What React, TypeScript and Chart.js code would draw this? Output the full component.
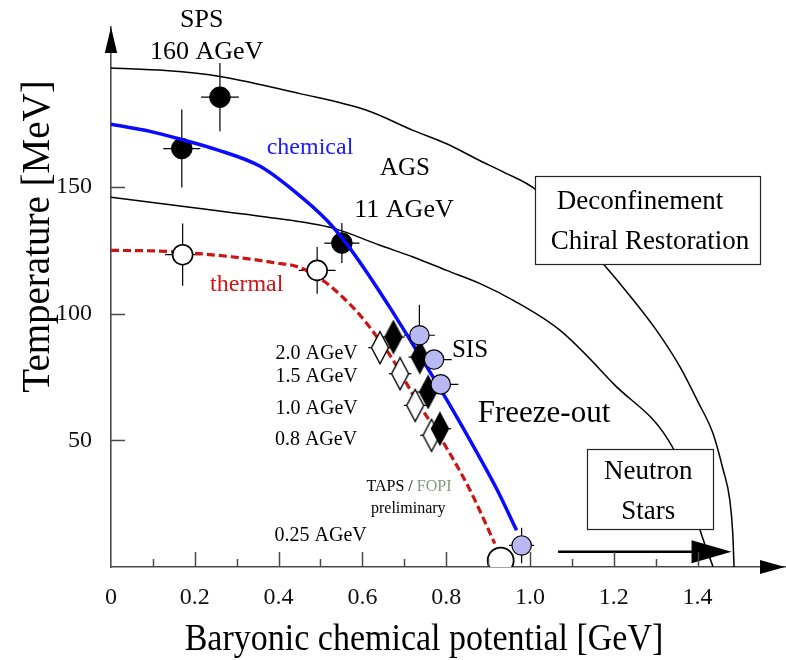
import React, { useEffect, useRef } from "react";
import { Chart, registerables } from "chart.js";

Chart.register(...registerables);

const FONT = '"Liberation Serif", "Times New Roman", serif';

// ---------------- axes ----------------
const xMin = 0;
const xMax = 1.6086;
const yMin = 0;
const yMax = 213.2;
const xTickValues = [0, 0.2, 0.4, 0.6, 0.8, 1.0, 1.2, 1.4];
const xTickLabels = ["0", "0.2", "0.4", "0.6", "0.8", "1.0", "1.2", "1.4"];
const xMinorTickValues = [0.1, 0.3, 0.5, 0.7, 0.9, 1.1, 1.3];
const yTickValues = [50, 100, 150];
const yTickLabels = ["50", "100", "150"];

// ---------------- curves ----------------
const deconfMu = [0, 0.13, 0.26, 0.451, 0.61, 0.721, 0.801, 0.881, 0.936, 1.016, 1.09, 1.171, 1.247, 1.302, 1.358, 1.4, 1.437, 1.46, 1.477, 1.484, 1.487];
const deconfT = [197, 196, 193.7, 186.9, 180.3, 172.4, 167.1, 160.4, 156, 148.7, 135, 120.4, 105.3, 93.4, 79, 65.5, 52.6, 39, 26.3, 13, 0];

const phaseMu = [0, 0.212, 0.37, 0.53, 0.642, 0.721, 0.801, 0.881, 0.96, 1.072, 1.199, 1.342, 1.38, 1.406, 1.437];
const phaseT = [146, 141.5, 138.2, 133.8, 127, 122.4, 117.1, 111.9, 105.3, 93.4, 72.4, 46.7, 30, 14.5, 0];

const chemicalMu = [0, 0.093, 0.168, 0.252, 0.356, 0.435, 0.515, 0.562, 0.61, 0.642, 0.67, 0.72, 0.787, 0.857, 0.92, 0.968];
const chemicalT = [174.8, 172, 168.8, 164.8, 158.2, 148.7, 136.9, 127.7, 116.5, 108.5, 101.3, 88, 70, 50, 31, 14.5];

const thermalMu = [0, 0.1, 0.172, 0.292, 0.388, 0.451, 0.511, 0.55, 0.594, 0.634, 0.674, 0.721, 0.801, 0.857, 0.916];
const thermalT = [125, 124.8, 124.2, 122.4, 120.2, 118.2, 112.5, 107, 99.5, 91, 81.5, 68, 47, 30.3, 9.2];

// ---------------- data points ----------------
const spsAgsChemMu = [0.169, 0.26, 0.551];
const spsAgsChemT = [165.2, 185.5, 127.9];
const spsAgsChemMuErr = [0.044, 0.045, 0.042];
const spsAgsChemTErr = [15.4, 13.5, 7.9];

const spsAgsThermMu = [0.171, 0.492];
const spsAgsThermT = [123.3, 117.1];
const spsAgsThermMuErr = [0.042, 0.044];
const spsAgsThermTErr = [12.3, 9.2];

const sisMu = [0.736, 0.771, 0.787, 0.98];
const sisT = [91.5, 81.9, 72.1, 8.5];
const sisMuErr = [0.037, 0.042, 0.042, 0.03];
const sisTErr = [12, 0, 0, 7];

const tapsChemMu = [0.674, 0.737, 0.757, 0.785];
const tapsChemT = [90.8, 82.9, 69.1, 54.6];
const tapsChemMuErr = [0.027, 0.027, 0.027, 0.027];

const tapsThermMu = [0.642, 0.69, 0.726, 0.765];
const tapsThermT = [86.6, 76.3, 63.8, 52.0];
const tapsThermMuErr = [0.028, 0.027, 0.027, 0.027];

const lowEnergyMu = [0.93];
const lowEnergyT = [2.5];

// ---------------- annotations ----------------
type Part = { text: string; color: string };
type Note = { parts: Part[]; mu: number; T: number; size: number };
const BLACK = "#000000";
const notes: Note[] = [
  { parts: [{ text: "SPS", color: BLACK }], mu: 0.2165, T: 215.8, size: 26 },
  { parts: [{ text: "160 AGeV", color: BLACK }], mu: 0.2284, T: 203.3, size: 26 },
  { parts: [{ text: "chemical", color: "#1a1aff" }], mu: 0.475, T: 165.4, size: 24 },
  { parts: [{ text: "AGS", color: BLACK }], mu: 0.7017, T: 157.3, size: 25 },
  { parts: [{ text: "11 AGeV", color: BLACK }], mu: 0.6993, T: 140.8, size: 26 },
  { parts: [{ text: "thermal", color: "#d01414" }], mu: 0.3239, T: 111.4, size: 24 },
  { parts: [{ text: "2.0 AGeV", color: BLACK }], mu: 0.4909, T: 84.2, size: 20 },
  { parts: [{ text: "1.5 AGeV", color: BLACK }], mu: 0.4909, T: 75.0, size: 20 },
  { parts: [{ text: "1.0 AGeV", color: BLACK }], mu: 0.4909, T: 62.5, size: 20 },
  { parts: [{ text: "0.8 AGeV", color: BLACK }], mu: 0.4893, T: 50.2, size: 20 },
  { parts: [{ text: "0.25 AGeV", color: BLACK }], mu: 0.5003, T: 12.5, size: 20 },
  { parts: [{ text: "TAPS / ", color: BLACK }, { text: "FOPI", color: "#7d9e7d" }], mu: 0.7112, T: 31.6, size: 16 },
  { parts: [{ text: "preliminary", color: BLACK }], mu: 0.7095, T: 23.0, size: 16 },
  { parts: [{ text: "SIS", color: BLACK }], mu: 0.8568, T: 85.5, size: 25 },
  { parts: [{ text: "Freeze-out", color: BLACK }], mu: 1.0334, T: 60.6, size: 31 },
  { parts: [{ text: "Deconfinement", color: BLACK }], mu: 1.2626, T: 144.1, size: 27 },
  { parts: [{ text: "Chiral Restoration", color: BLACK }], mu: 1.2864, T: 128.4, size: 27 },
  { parts: [{ text: "Neutron", color: BLACK }], mu: 1.2823, T: 37.5, size: 27 },
  { parts: [{ text: "Stars", color: BLACK }], mu: 1.2823, T: 21.7, size: 27 },
];

const boxes = [
  { mu0: 1.012, mu1: 1.549, T0: 119.8, T1: 154.5 },
  { mu0: 1.135, mu1: 1.4375, T0: 15.2, T1: 46.7 },
];

const nsArrow = { mu0: 1.067, mu1: 1.481, T: 6.0 };

const xTitle = "Baryonic chemical potential [GeV]";
const yTitle = "Temperature [MeV]";

// ---------------- helpers ----------------
const toXY = (xs: number[], ys: number[]) => xs.map((x, i) => ({ x, y: ys[i] }));

function makeDiamond(fill: string, hw: number, hh: number): HTMLCanvasElement {
  const c = document.createElement("canvas");
  c.width = Math.ceil(2 * hw + 3);
  c.height = Math.ceil(2 * hh + 3);
  const g = c.getContext("2d")!;
  const cx = c.width / 2;
  const cy = c.height / 2;
  g.beginPath();
  g.moveTo(cx, cy - hh);
  g.lineTo(cx + hw, cy);
  g.lineTo(cx, cy + hh);
  g.lineTo(cx - hw, cy);
  g.closePath();
  g.fillStyle = fill;
  g.fill();
  g.lineWidth = 1.4;
  g.strokeStyle = "#000";
  g.stroke();
  return c;
}

const errorGroups = [
  { mu: spsAgsChemMu, T: spsAgsChemT, muErr: spsAgsChemMuErr, TErr: spsAgsChemTErr },
  { mu: spsAgsThermMu, T: spsAgsThermT, muErr: spsAgsThermMuErr, TErr: spsAgsThermTErr },
  { mu: sisMu, T: sisT, muErr: sisMuErr, TErr: sisTErr },
  { mu: tapsChemMu, T: tapsChemT, muErr: tapsChemMuErr, TErr: tapsChemMu.map(() => 0) },
  { mu: tapsThermMu, T: tapsThermT, muErr: tapsThermMuErr, TErr: tapsThermMu.map(() => 0) },
];

const overlayPlugin = {
  id: "overlay",
  beforeDatasetsDraw(chart: any) {
    const { ctx } = chart;
    const xs = chart.scales.x;
    const ys = chart.scales.y;
    ctx.save();
    ctx.strokeStyle = "#000";
    ctx.lineWidth = 1.2;
    for (const g of errorGroups) {
      g.mu.forEach((m: number, i: number) => {
        const px = xs.getPixelForValue(m);
        const py = ys.getPixelForValue(g.T[i]);
        ctx.beginPath();
        if (g.muErr[i]) {
          ctx.moveTo(xs.getPixelForValue(m - g.muErr[i]), py);
          ctx.lineTo(xs.getPixelForValue(m + g.muErr[i]), py);
        }
        if (g.TErr[i]) {
          ctx.moveTo(px, ys.getPixelForValue(g.T[i] - g.TErr[i]));
          ctx.lineTo(px, ys.getPixelForValue(g.T[i] + g.TErr[i]));
        }
        ctx.stroke();
      });
    }
    ctx.restore();
  },
  afterDatasetsDraw(chart: any) {
    const { ctx, chartArea } = chart;
    const xs = chart.scales.x;
    const ys = chart.scales.y;
    ctx.save();

    // boxes
    for (const b of boxes) {
      const x0 = Math.round(xs.getPixelForValue(b.mu0)) + 0.5;
      const x1 = Math.round(xs.getPixelForValue(b.mu1)) + 0.5;
      const y0 = Math.round(ys.getPixelForValue(b.T1)) + 0.5;
      const y1 = Math.round(ys.getPixelForValue(b.T0)) + 0.5;
      ctx.fillStyle = "#fff";
      ctx.fillRect(x0, y0, x1 - x0, y1 - y0);
      ctx.strokeStyle = "#222";
      ctx.lineWidth = 1.2;
      ctx.strokeRect(x0, y0, x1 - x0, y1 - y0);
    }

    // neutron star arrow
    {
      const y = ys.getPixelForValue(nsArrow.T);
      const x0 = xs.getPixelForValue(nsArrow.mu0);
      const tip = xs.getPixelForValue(nsArrow.mu1);
      const base = tip - 40;
      ctx.strokeStyle = "#000";
      ctx.lineWidth = 2.6;
      ctx.beginPath();
      ctx.moveTo(x0, y);
      ctx.lineTo(base + 2, y);
      ctx.stroke();
      ctx.fillStyle = "#000";
      ctx.beginPath();
      ctx.moveTo(tip, y);
      ctx.lineTo(base, y - 11.5);
      ctx.lineTo(base, y + 11.5);
      ctx.closePath();
      ctx.fill();
    }

    // inward tick marks
    ctx.strokeStyle = "#4a4a4a";
    ctx.lineWidth = 1.5;
    ctx.beginPath();
    for (const v of xTickValues) {
      if (v === 0) continue;
      const px = Math.round(xs.getPixelForValue(v)) + 0.5;
      ctx.moveTo(px, chartArea.bottom);
      ctx.lineTo(px, chartArea.bottom - 15);
    }
    for (const v of xMinorTickValues) {
      const px = Math.round(xs.getPixelForValue(v)) + 0.5;
      ctx.moveTo(px, chartArea.bottom);
      ctx.lineTo(px, chartArea.bottom - 8);
    }
    for (const v of yTickValues) {
      const py = Math.round(ys.getPixelForValue(v)) + 0.5;
      ctx.moveTo(chartArea.left, py);
      ctx.lineTo(chartArea.left + 14, py);
    }
    ctx.stroke();

    // axis arrowheads
    ctx.fillStyle = "#000";
    ctx.beginPath();
    ctx.moveTo(chartArea.left, chartArea.top);
    ctx.lineTo(chartArea.left - 6.2, chartArea.top + 26);
    ctx.lineTo(chartArea.left + 6.2, chartArea.top + 26);
    ctx.closePath();
    ctx.fill();
    ctx.beginPath();
    ctx.moveTo(chartArea.right, chartArea.bottom);
    ctx.lineTo(chartArea.right - 25, chartArea.bottom - 7);
    ctx.lineTo(chartArea.right - 25, chartArea.bottom + 7);
    ctx.closePath();
    ctx.fill();

    // annotations
    ctx.textBaseline = "middle";
    ctx.textAlign = "left";
    for (const n of notes) {
      ctx.font = `${n.size}px ${FONT}`;
      const total = n.parts.reduce((s, p) => s + ctx.measureText(p.text).width, 0);
      let x = xs.getPixelForValue(n.mu) - total / 2;
      const y = ys.getPixelForValue(n.T);
      for (const p of n.parts) {
        ctx.fillStyle = p.color;
        ctx.fillText(p.text, x, y);
        x += ctx.measureText(p.text).width;
      }
    }

    // axis titles
    ctx.fillStyle = "#000";
    ctx.textAlign = "center";
    ctx.textBaseline = "alphabetic";
    ctx.save();
    ctx.translate(chartArea.left + 313, chartArea.bottom + 83);
    ctx.scale(1, 1.1);
    ctx.font = `34px ${FONT}`;
    ctx.fillText(xTitle, 0, 0);
    ctx.restore();

    ctx.save();
    ctx.translate(chartArea.left - 62, chartArea.top + 209.5);
    ctx.rotate(-Math.PI / 2);
    ctx.font = `39px ${FONT}`;
    ctx.fillText(yTitle, 0, 0);
    ctx.restore();

    ctx.restore();
  },
};

export default function App() {
  const ref = useRef<HTMLCanvasElement | null>(null);

  useEffect(() => {
    const canvas = ref.current;
    if (!canvas) return;
    const diamondOpen = makeDiamond("#ffffff", 8.5, 16);
    const diamondFilled = makeDiamond("#000000", 8.5, 16);

    const lineBase = { showLine: true, pointRadius: 0, pointHoverRadius: 0, fill: false, cubicInterpolationMode: "monotone" };
    const pointBase = { showLine: false };

    const chart = new Chart(canvas, {
      type: "scatter",
      data: {
        datasets: [
          { ...lineBase, label: "deconfinement", data: toXY(deconfMu, deconfT), borderColor: "#000", borderWidth: 1.5, order: 10 },
          { ...lineBase, label: "phase", data: toXY(phaseMu, phaseT), borderColor: "#000", borderWidth: 1.5, order: 10 },
          { ...lineBase, label: "thermal", data: toXY(thermalMu, thermalT), borderColor: "#cc1414", borderWidth: 3.2, borderDash: [8, 4], order: 9 },
          { ...pointBase, label: "SPS/AGS chemical", data: toXY(spsAgsChemMu, spsAgsChemT), pointStyle: "circle", pointRadius: 10.3, backgroundColor: "#000", borderColor: "#000", borderWidth: 1, order: 8 },
          { ...pointBase, label: "SPS/AGS thermal", data: toXY(spsAgsThermMu, spsAgsThermT), pointStyle: "circle", pointRadius: 10, backgroundColor: "#fff", borderColor: "#000", borderWidth: 1.6, order: 7 },
          { ...lineBase, label: "chemical", data: toXY(chemicalMu, chemicalT), borderColor: "#0a0aff", borderWidth: 3.5, order: 6 },
          { ...pointBase, label: "low energy", data: toXY(lowEnergyMu, lowEnergyT), pointStyle: "circle", pointRadius: 13, backgroundColor: "#fff", borderColor: "#000", borderWidth: 1.8, order: 5.5, clip: 0 },
          { ...pointBase, label: "TAPS thermal", data: toXY(tapsThermMu, tapsThermT), pointStyle: diamondOpen, pointRadius: 9, order: 5 },
          { ...pointBase, label: "TAPS chemical", data: toXY(tapsChemMu, tapsChemT), pointStyle: diamondFilled, pointRadius: 9, order: 4 },
          { ...pointBase, label: "SIS", data: toXY(sisMu, sisT), pointStyle: "circle", pointRadius: 9.7, backgroundColor: "#b8b8f2", borderColor: "#000", borderWidth: 1.2, order: 3 },
        ] as any,
      },
      options: {
        animation: false,
        responsive: false,
        devicePixelRatio: 1,
        events: [],
        layout: { autoPadding: false, padding: { top: 27, right: 1, left: 0, bottom: 0 } },
        plugins: { legend: { display: false }, tooltip: { enabled: false } },
        scales: {
          x: {
            type: "linear",
            min: xMin,
            max: xMax,
            afterBuildTicks: (s: any) => {
              s.ticks = xTickValues.map((v) => ({ value: v }));
            },
            afterFit: (s: any) => {
              s.height = 93;
              s.paddingLeft = 0;
              s.paddingRight = 0;
            },
            grid: { display: false, drawTicks: false },
            border: { display: true, color: "#4a4a4a", width: 1.6 },
            ticks: {
              callback: (_v: any, i: number) => xTickLabels[i],
              font: { family: FONT, size: 24 },
              color: "#111",
              padding: 16,
              maxRotation: 0,
              autoSkip: false,
            },
          },
          y: {
            type: "linear",
            min: yMin,
            max: yMax,
            afterBuildTicks: (s: any) => {
              s.ticks = yTickValues.map((v) => ({ value: v }));
            },
            afterFit: (s: any) => {
              s.width = 111;
              s.paddingTop = 0;
              s.paddingBottom = 0;
            },
            grid: { display: false, drawTicks: false },
            border: { display: true, color: "#4a4a4a", width: 1.6 },
            ticks: {
              callback: (_v: any, i: number) => yTickLabels[i],
              font: { family: FONT, size: 24 },
              color: "#111",
              padding: 19,
              autoSkip: false,
            },
          },
        },
      } as any,
      plugins: [overlayPlugin],
    });
    return () => chart.destroy();
  }, []);

  return (
    <div style={{ position: "fixed", left: 0, top: 0, width: 786, height: 660, background: "#fff" }}>
      <canvas ref={ref} width={786} height={660} style={{ width: 786, height: 660, display: "block" }} />
    </div>
  );
}
